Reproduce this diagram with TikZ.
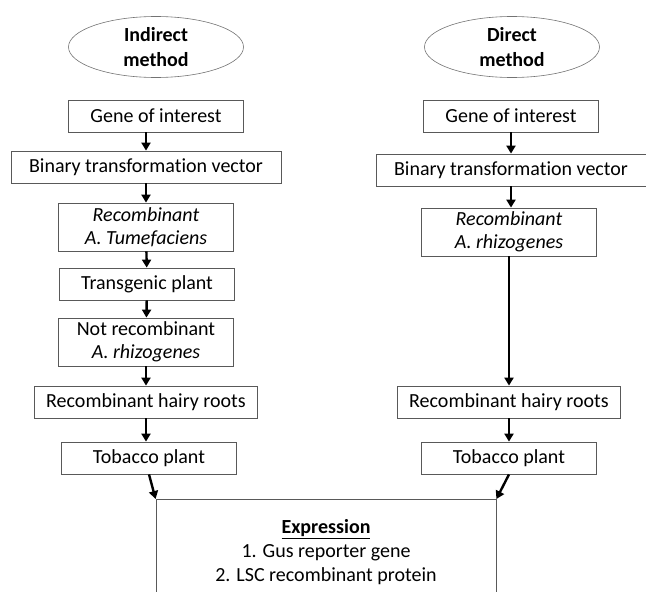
\documentclass[tikz,border=0pt]{standalone}
\usepackage{fontspec}
\setmainfont[Ligatures=NoCommon]{Carlito}
\usetikzlibrary{arrows.meta, shapes.geometric}

\begin{document}
\begin{tikzpicture}[x=1pt,y=-1pt,font=\fontsize{20}{23}\selectfont]
            \tikzstyle{stepbox}=[rectangle, draw=black!65, line width=0.8pt, minimum width=175pt, minimum height=32pt, inner sep=1pt, align=center]
            \tikzstyle{method}=[ellipse, draw=black!55, line width=0.6pt, minimum width=175pt, minimum height=61pt, inner sep=1pt, align=center, font=\fontsize{20}{25}\selectfont\bfseries]
            \tikzstyle{flow}=[line width=2.4pt, -{Triangle[length=8pt,width=9pt]}]

            \clip (0,0) rectangle (646,592);

            % indirect method
            \node[method] (m_ind) at (156, 47) {Indirect\\method};
            \node[stepbox] (l_gene) at (156, 116) {Gene of interest};
            \node[stepbox, minimum width=270pt] (l_bin) at (146, 167) {Binary transformation vector};
            \node[stepbox, minimum height=48pt] (l_tum) at (146, 227) {\textit{Recombinant}\\\textit{A. Tumefaciens}};
            \node[stepbox] (l_trans) at (147, 284) {Transgenic plant};
            \node[stepbox, minimum height=48pt] (l_notrec) at (146, 342) {Not recombinant\\\textit{A. rhizogenes}};
            \node[stepbox, minimum width=223pt] (l_hairy) at (146, 402) {Recombinant hairy roots};
            \node[stepbox] (l_tob) at (149, 458) {Tobacco plant};

            % direct method
            \node[method] (m_dir) at (512, 47) {Direct\\method};
            \node[stepbox] (r_gene) at (511, 116) {Gene of interest};
            \node[stepbox, minimum width=270pt] (r_bin) at (511, 170) {Binary transformation vector};
            \node[stepbox, minimum height=48pt] (r_rhiz) at (509, 232) {\textit{Recombinant}\\\textit{A. rhizogenes}};
            \node[stepbox, minimum width=223pt] (r_hairy) at (509, 402) {Recombinant hairy roots};
            \node[stepbox] (r_tob) at (509, 458) {Tobacco plant};

            % common result
            \node[stepbox, anchor=north, minimum width=340pt, inner ysep=20pt, font=\fontsize{20}{24}\selectfont] (expr) at (326, 499)
                {\underline{\textbf{Expression}}\\1. Gus reporter gene\\2. LSC recombinant protein};

            \path[flow]
            (l_bin |- l_gene.south) edge (l_bin.north)
            (l_bin) edge (l_tum)
            (l_tum) edge (l_trans)
            (l_trans) edge (l_notrec)
            (l_notrec) edge (l_hairy)
            (l_hairy.south) edge (l_hairy.south |- l_tob.north)
            (l_tob.south) edge (expr.north west)

            (r_gene.south) edge (r_gene.south |- r_bin.north)
            (r_bin.south) edge (r_bin.south |- r_rhiz.north)
            (r_rhiz) edge (r_hairy)
            (r_hairy) edge (r_tob)
            (r_tob.south) edge (expr.north east);

          \end{tikzpicture}
\end{document}
